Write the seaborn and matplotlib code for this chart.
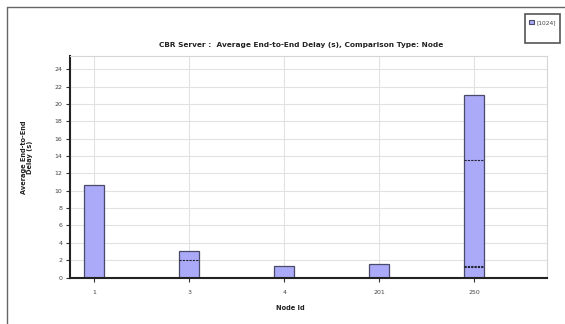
import matplotlib.pyplot as plt
import seaborn as sns
import pandas as pd
from matplotlib.patches import Patch, Rectangle
from matplotlib.lines import Line2D

# values
nodes = ['1', '3', '4', '201', '250']
delay = [10.7, 3.1, 1.35, 1.55, 21.1]
# dashed marks drawn inside some bars
mark_nodes = ['3', '250', '250', '250']
mark_values = [2.0, 13.6, 1.2, 1.32]
y_ticks = list(range(0, 25, 2))
series_name = '[1024]'

sns.set_style('white')
plt.rcParams['font.family'] = ['DejaVu Sans']

W, H = 565, 324
fig = plt.figure(figsize=(W / 100, H / 100), dpi=100)
ax = fig.add_axes([69.5 / W, 1 - 277.5 / H, (546.7 - 69.5) / W, (277.5 - 56) / H])

df = pd.DataFrame({'node': nodes, 'delay': delay})
bar_w = 0.21
sns.barplot(data=df, x='node', y='delay', order=nodes, color='#aaaaf8',
            edgecolor='#4a4a6a', linewidth=0.9, width=bar_w, saturation=1, ax=ax)

# dashed lines inside bars
for n, v in zip(mark_nodes, mark_values):
    i = nodes.index(n)
    ax.hlines(v, i - bar_w / 2, i + bar_w / 2, colors='#222233',
              linestyles=(0, (2, 1)), lw=0.8, zorder=3)

ax.set_xlim(-0.26, 4.76)
ax.set_ylim(0, 25.55)
ax.set_yticks(y_ticks)
ax.set_axisbelow(True)
ax.grid(color='#e2e2e2', lw=0.8)
ax.set_xlabel('')
ax.set_ylabel('')
for s in ['left', 'bottom']:
    ax.spines[s].set_color('#222222')
    ax.spines[s].set_linewidth(1.5)
for s in ['top', 'right']:
    ax.spines[s].set_color('#d5d5d5')
    ax.spines[s].set_linewidth(0.8)
ax.tick_params(axis='both', length=3, width=0.8, color='#333333',
               labelsize=4.5, labelcolor='#444444', pad=2, left=True, bottom=True)
ax.tick_params(axis='x', pad=6)

fig.text(301 / W, 1 - 45 / H,
         'CBR Server :  Average End-to-End Delay (s), Comparison Type: Node',
         ha='center', va='center', fontsize=5.3, weight='bold', color='#222222')
fig.text(27 / W, 1 - 157 / H, 'Average End-to-End\nDelay (s)', rotation=90,
         ha='center', va='center', fontsize=4.8, weight='bold', color='#222222',
         linespacing=1.0)
fig.text(290 / W, 1 - 308 / H, 'Node Id', ha='center', va='center',
         fontsize=4.8, weight='bold', color='#222222')

# legend: tall box with the entry at its top
fig.add_artist(Rectangle((525 / W, 1 - 43 / H), 35 / W, 29 / H, transform=fig.transFigure,
                         facecolor='white', edgecolor='#555555', lw=1.2))
leg = fig.legend(handles=[Patch(facecolor='#aaaaf8', edgecolor='#4a4a6a', lw=0.8)],
                 labels=[series_name], loc='upper left',
                 bbox_to_anchor=(528 / W, 1 - 18.5 / H), fontsize=4.2,
                 frameon=False, handlelength=0.8, handleheight=0.8,
                 handletextpad=0.4, borderpad=0.2, borderaxespad=0)
for t in leg.get_texts():
    t.set_color('#444444')

# outer frame
fig.add_artist(Line2D([7 / W, 7 / W], [0, 1 - 7 / H], color='#666666', lw=1))
fig.add_artist(Line2D([7 / W, 1], [1 - 7 / H, 1 - 7 / H], color='#666666', lw=1))

fig.savefig('out.png', dpi=100)
